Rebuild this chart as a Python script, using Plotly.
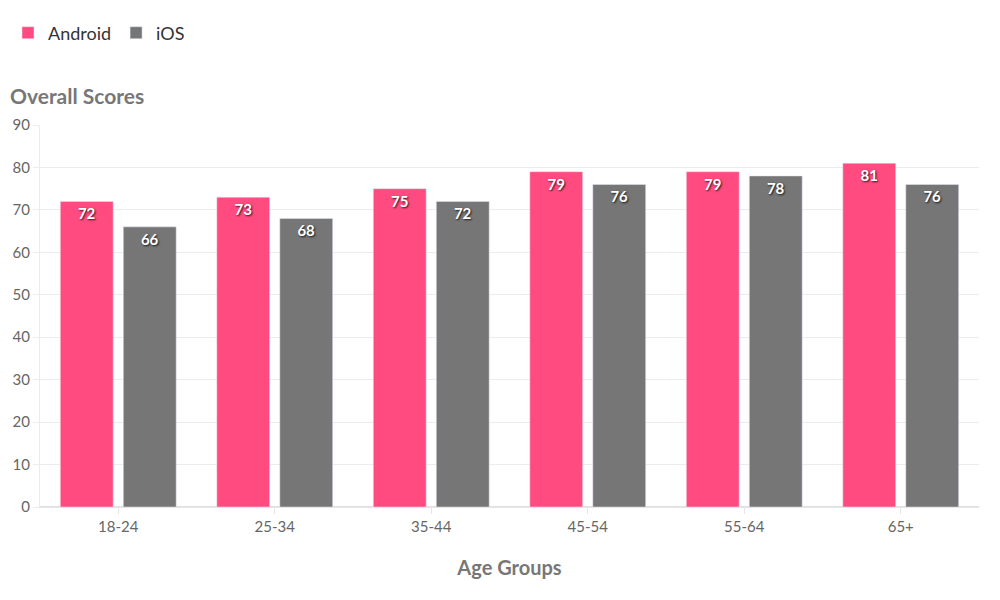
import plotly.graph_objects as go

categories = ["18-24", "25-34", "35-44", "45-54", "55-64", "65+"]
android = [72, 73, 75, 79, 79, 81]
ios = [66, 68, 72, 76, 78, 76]
y_ticks = [0, 10, 20, 30, 40, 50, 60, 70, 80, 90]

FONT = "Lato, 'Open Sans', sans-serif"
label_font = dict(family=FONT, size=15, color="white", weight="bold",
                  shadow="1px 1px 2px rgba(0,0,0,0.8)")

fig = go.Figure()
fig.add_trace(go.Bar(
    name="Android", x=categories, y=android, marker_color="#FF4B80",
    text=android, textposition="inside", insidetextanchor="end",
    textfont=label_font, textangle=0,
))
fig.add_trace(go.Bar(
    name="iOS", x=categories, y=ios, marker_color="#767676",
    text=ios, textposition="inside", insidetextanchor="end",
    textfont=label_font, textangle=0,
))

fig.update_layout(
    width=1000, height=600,
    margin=dict(l=32, r=29, t=117, b=101, autoexpand=False),
    paper_bgcolor="white", plot_bgcolor="white",
    barmode="group", bargap=0.195, bargroupgap=0.16,
    font=dict(family=FONT, color="#666666", size=15),
    showlegend=True,
    legend=dict(orientation="h", xref="container", yref="container",
                x=-0.012, xanchor="left", y=1 - 25 / 600, yanchor="middle",
                font=dict(size=18, color="#333333"), itemwidth=30,
                traceorder="normal", tracegroupgap=0),
    uniformtext=dict(mode="show", minsize=12),
)
fig.update_xaxes(
    automargin=False,
    showgrid=False, showline=True, linecolor="#e6e6e6", linewidth=1,
    ticks="outside", ticklen=6, tickcolor="#e6e6e6",
    tickfont=dict(size=15, color="#666666"),
    title=dict(text="<b>Age Groups</b>", font=dict(size=20, color="#777777"), standoff=26),
)
fig.update_yaxes(
    automargin=False,
    range=[0, 90], tickvals=y_ticks, showgrid=True, gridcolor="#ececec",
    showline=True, linecolor="#ececec", zeroline=True, zerolinecolor="#e0e0e0",
    ticks="outside", ticklen=6, tickcolor="#ececec",
    tickfont=dict(size=15, color="#666666"),
)
fig.add_annotation(
    text="<b>Overall Scores</b>", xref="paper", yref="paper",
    x=-32 / 939, y=1 + 29 / 382, xanchor="left", yanchor="middle", showarrow=False,
    font=dict(size=21, color="#777777", family=FONT),
)

fig.write_html("out.html")
